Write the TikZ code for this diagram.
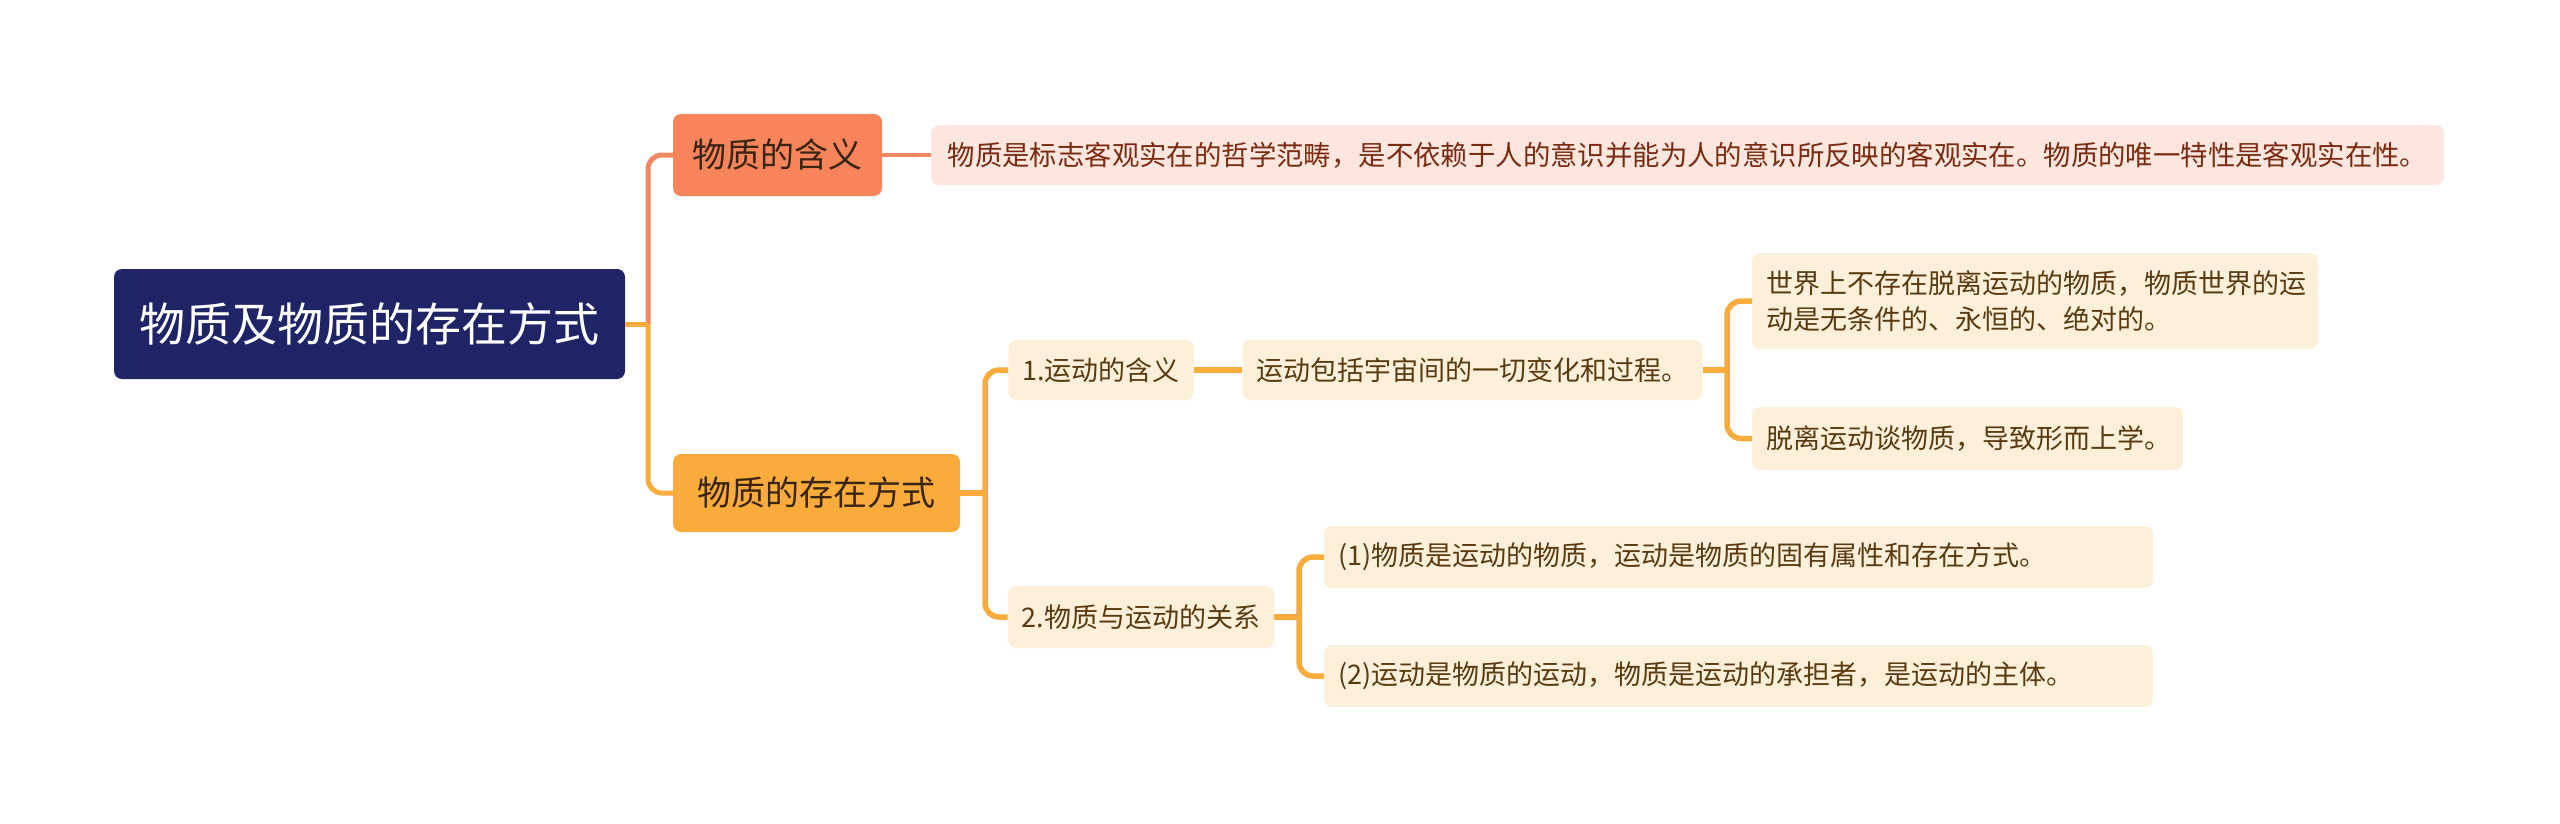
\documentclass[tikz,border=0pt]{standalone}
\usepackage{fontspec}
\newfontfamily\cjk{Noto Sans CJK SC}
\definecolor{rootfill}{HTML}{1F2466}
\definecolor{redfill}{HTML}{F7845B}
\definecolor{redline}{HTML}{F08862}
\definecolor{redleaf}{HTML}{FCE6DE}
\definecolor{redtext}{HTML}{7A2B12}
\definecolor{yelfill}{HTML}{F9AC3B}
\definecolor{yelline}{HTML}{F8AC3C}
\definecolor{yelleaf}{HTML}{FDF0DA}
\definecolor{darktext}{HTML}{3A2412}
\definecolor{leaftext}{HTML}{5A3A10}
\begin{document}
\begin{tikzpicture}[x=1pt,y=-1pt,
  box/.style={rounded corners=8pt, inner xsep=14pt, inner ysep=0pt, draw=none},
  rootbox/.style={box, fill=rootfill, text=white, align=center, font=\cjk\fontsize{46}{54}\selectfont},
  lvlone/.style={box, align=center, text=darktext, font=\cjk\fontsize{34}{40}\selectfont},
  leaf/.style={box, fill=yelleaf, text=leaftext, align=left, font=\cjk\fontsize{27}{36}\selectfont},
  redconn/.style={draw=redline, line width=5pt},
  redthin/.style={draw=redline, line width=3.8pt},
  yelconn/.style={draw=yelline, line width=5pt},
  yelthin/.style={draw=yelline, line width=5.5pt},
]
\useasboundingbox (0,0) rectangle (2560,823);

% nodes
\node[rootbox, minimum width=511pt, minimum height=110pt] (root) at (369.5,324) {物质及物质的存在方式};
\node[lvlone, fill=redfill, minimum width=209pt, minimum height=82pt] (n1) at (777.5,155) {物质的含义};
\node[box, fill=redleaf, text=redtext, align=center, inner xsep=8pt, font=\cjk\fontsize{27.4}{36}\selectfont, minimum width=1513pt, minimum height=60pt] (c1) at (1687.5,155) {物质是标志客观实在的哲学范畴，是不依赖于人的意识并能为人的意识所反映的客观实在。物质的唯一特性是客观实在性。};
\node[lvlone, fill=yelfill, minimum width=287pt, minimum height=78pt] (n2) at (816.5,493) {物质的存在方式};

\node[leaf, align=center, minimum width=184pt, minimum height=60pt] (a) at (1101,370) {1.运动的含义};
\node[leaf, align=center, minimum width=457pt, minimum height=60pt] (b) at (1472.5,370) {运动包括宇宙间的一切变化和过程。};
\node[leaf, text width=538pt, minimum height=96pt] (b1) at (2035,301) {世界上不存在脱离运动的物质，物质世界的运\\动是无条件的、永恒的、绝对的。};
\node[leaf, text width=403pt, minimum height=63pt] (b2) at (1967.5,438.5) {脱离运动谈物质，导致形而上学。};
\node[leaf, align=center, minimum width=264pt, minimum height=62pt] (d) at (1141,617) {2.物质与运动的关系};
\node[leaf, text width=801pt, minimum height=62pt] (d1) at (1738.5,557) {(1)物质是运动的物质，运动是物质的固有属性和存在方式。};
\node[leaf, text width=801pt, minimum height=62pt] (d2) at (1738.5,676) {(2)运动是物质的运动，物质是运动的承担者，是运动的主体。};

% trunk positions
\coordinate (t0) at (648,0);
\coordinate (t1) at (985,0);
\coordinate (t2) at (1727,0);
\coordinate (t3) at (1299,0);

% connectors
\draw[redconn, rounded corners=14pt] (root.east -| t0) |- (n1.west);
\draw[yelconn] (root.east) -- (root.east -| t0);
\draw[yelconn, rounded corners=14pt] (root.east -| t0) |- (n2.west);
\draw[redthin] (n1.east) -- (c1.west);

\draw[yelthin] (n2.east) -- (n2.east -| t1);
\draw[yelthin, rounded corners=14pt] (n2.east -| t1) |- (a.west);
\draw[yelthin, rounded corners=14pt] (n2.east -| t1) |- (d.west);
\draw[yelthin] (a.east) -- (b.west);

\draw[yelthin] (b.east) -- (b.east -| t2);
\draw[yelthin, rounded corners=14pt] (b.east -| t2) |- (b1.west);
\draw[yelthin, rounded corners=14pt] (b.east -| t2) |- (b2.west);

\draw[yelthin] (d.east) -- (d.east -| t3);
\draw[yelthin, rounded corners=14pt] (d.east -| t3) |- (d1.west);
\draw[yelthin, rounded corners=14pt] (d.east -| t3) |- (d2.west);
\end{tikzpicture}
\end{document}
